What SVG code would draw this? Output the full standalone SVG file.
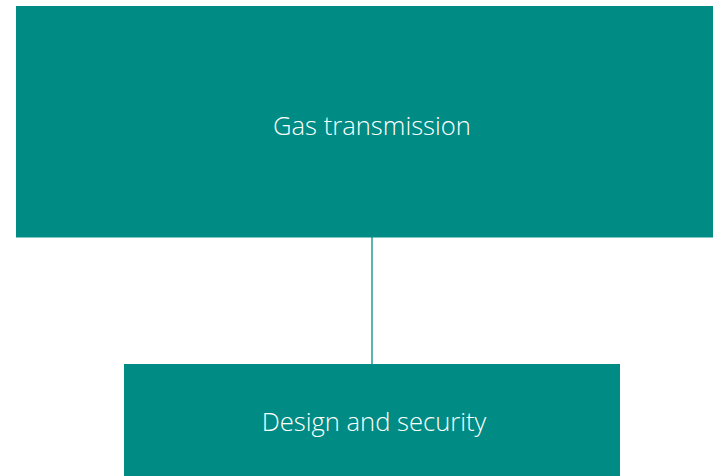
<svg xmlns="http://www.w3.org/2000/svg" width="713" height="476" viewBox="0 0 713 476">
<style>
.box{fill:#008B84}
.lbl{font-family:"Open Sans","Noto Sans",sans-serif;font-weight:300;font-size:25.6px;fill:#FFFFFF;text-anchor:middle}
.conn{stroke:#008B84;stroke-width:1.3;fill:none}
</style>
<rect width="713" height="476" fill="#FFFFFF"/>
<g id="connectors">
<line class="conn" x1="372" y1="237" x2="372" y2="364"/>
</g>
<g id="node-gas-transmission">
<rect class="box" x="16" y="6" width="697" height="231.5"/>
<text class="lbl" x="372" y="135">Gas transmission</text>
</g>
<g id="node-design-security">
<rect class="box" x="124" y="364" width="496" height="112"/>
<text class="lbl" x="374" y="431">Design and security</text>
</g>
</svg>
